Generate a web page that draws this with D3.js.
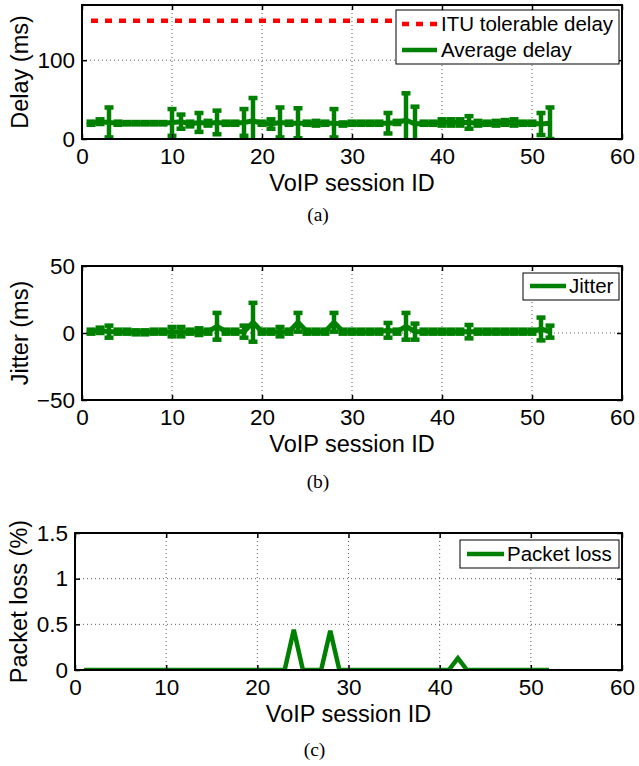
<!DOCTYPE html>
<html><head><meta charset="utf-8">
<script src="https://cdn.jsdelivr.net/npm/d3@7"></script>
<style>body{margin:0;background:#fff}</style>
</head><body>
<svg id="chart" width="639" height="766"></svg>
<script>
// ---------- DATA ----------
const sessionIds = d3.range(1, 53);
const delayMean = [20,22,21,20,20,20,20,20,20,21,22,19,21,20,21,20,20,21,23,20,19,21,20,20,20,20,20,20,19,20,20,20,20,20,21,24,19,20,20,21,21,21,21,20,20,20,21,21,20,20,19,20];
const delayErr  = [2,3,19,2,1.5,1.5,1.5,1.5,1.5,17,9,3,12,3,15,2,2,17,29,2,6,19,2,19,2,3,2,18,2,2,2,2,2,13,2,34,22,2,2,4,4,4,8,3,2,3,3,4,2,2,14,20];
const ituDelay = 150;
const jitterMean = [1,2,1,1,1,0.5,0.5,1,1,1,1,1,1,1,5,1,1,1,8,1,1,1,1,8,1,1,1,8,1,1,1,1,1,2,1,5,1,1,1,1,1,1,1,1,1,1,1,1,1,1,3,1];
const jitterErr  = [1.5,2,4.5,1.5,1.5,1.5,1.5,1.5,1.5,3.5,3.5,1.5,2.5,1.5,10,1.5,1.5,4.5,14.5,1.5,1.5,3.5,1.5,7,1.5,1.5,1.5,7,1.5,1.5,1.5,1.5,1.5,5.5,1.5,10,6,1.5,1.5,1.5,1.5,1.5,5,1.5,1.5,1.5,1.5,1.5,1.5,1.5,8.5,4.5];
const packetLoss = [0,0,0,0,0,0,0,0,0,0,0,0,0,0,0,0,0,0,0,0,0,0,0,0.44,0,0,0,0.43,0,0,0,0,0,0,0,0,0,0,0,0,0,0.13,0,0,0,0,0,0,0,0,0,0];
const xTicks = [0,10,20,30,40,50,60];
const delayTicks = [0,100];
const jitterTicks = [-50,0,50];
const lossTicks = [0,0.5,1,1.5];
const xLabel = "VoIP session ID";
const delayLegend = ["ITU tolerable delay", "Average delay"];
const jitterLegend = ["Jitter"];
const lossLegend = ["Packet loss"];
const captions = ["(a)", "(b)", "(c)"];

// ---------- DRAW ----------
const svg = d3.select("#chart");
const GREEN = "#008000", RED = "#ff0000";
const FONT = "'Liberation Sans', Arial, Helvetica, sans-serif";
const fmt = v => String(v).replace("-", "\u2212");

function panel(o, idx) {
  const x = d3.scaleLinear().domain([0, 60]).range([o.left, o.right]);
  const y = d3.scaleLinear().domain(o.yDomain).range([o.bottom, o.top]);
  const g = svg.append("g");
  const clipId = "clip" + idx;
  svg.append("clipPath").attr("id", clipId).append("rect")
    .attr("x", o.left).attr("y", o.top).attr("width", o.right - o.left).attr("height", o.bottom - o.top);

  const grid = g.append("g").attr("stroke", "#333").attr("stroke-width", 0.8).attr("stroke-dasharray", "1,3");
  xTicks.filter(t => t > 0 && t < 60).forEach(t => grid.append("line").attr("x1", x(t)).attr("x2", x(t)).attr("y1", o.top).attr("y2", o.bottom));
  o.yTicks.filter(t => t > o.yDomain[0] && t < o.yDomain[1]).forEach(t => grid.append("line").attr("x1", o.left).attr("x2", o.right).attr("y1", y(t)).attr("y2", y(t)));

  const data = g.append("g").attr("clip-path", `url(#${clipId})`);
  o.draw(data, x, y);

  const tl = 5;
  const axB = d3.axisBottom(x).tickValues(xTicks).tickSizeInner(-tl).tickSizeOuter(0).tickFormat(fmt).tickPadding(9);
  const axT = d3.axisTop(x).tickValues(xTicks).tickSizeInner(-tl).tickSizeOuter(0).tickFormat("");
  const axL = d3.axisLeft(y).tickValues(o.yTicks).tickSizeInner(-tl).tickSizeOuter(0).tickFormat(fmt).tickPadding(7);
  const axR = d3.axisRight(y).tickValues(o.yTicks).tickSizeInner(-tl).tickSizeOuter(0).tickFormat("");
  const styleAx = sel => {
    sel.select(".domain").remove();
    sel.selectAll("line").attr("stroke", "#000").attr("stroke-width", 1.5);
    sel.selectAll("text").attr("font-family", FONT).attr("font-size", 22.5).attr("fill", "#000");
  };
  g.append("g").attr("transform", `translate(0,${o.bottom})`).call(axB).call(styleAx);
  g.append("g").attr("transform", `translate(0,${o.top})`).call(axT).call(styleAx);
  g.append("g").attr("transform", `translate(${o.left},0)`).call(axL).call(styleAx);
  g.append("g").attr("transform", `translate(${o.right},0)`).call(axR).call(styleAx);
  g.append("rect").attr("x", o.left).attr("y", o.top).attr("width", o.right - o.left).attr("height", o.bottom - o.top)
    .attr("fill", "none").attr("stroke", "#000").attr("stroke-width", 2);

  g.append("text").attr("x", (o.left + o.right) / 2).attr("y", o.bottom + 52)
    .attr("text-anchor", "middle").attr("font-family", FONT).attr("font-size", 23.5).text(xLabel);
  g.append("text").attr("transform", `translate(${o.yLabelX},${(o.top + o.bottom) / 2}) rotate(-90)`)
    .attr("text-anchor", "middle").attr("font-family", FONT).attr("font-size", 23.5).text(o.yLabel);
  g.append("text").attr("x", (o.left + o.right) / 2 - 34).attr("y", o.captionY)
    .attr("text-anchor", "middle").attr("font-family", "'Liberation Serif','DejaVu Serif',serif").attr("font-size", 19.5).text(captions[idx]);

  const L = o.legend;
  const lg = g.append("g");
  lg.append("rect").attr("x", L.x0).attr("y", L.y0).attr("width", L.x1 - L.x0).attr("height", L.y1 - L.y0)
    .attr("fill", "#fff").attr("stroke", "#000").attr("stroke-width", 1);
  L.items.forEach((it, i) => {
    const yy = L.rowY[i];
    const ln = lg.append("line").attr("x1", L.lx0).attr("x2", L.lx1).attr("y1", yy).attr("y2", yy)
      .attr("stroke", it.color).attr("stroke-width", 4.5);
    if (it.dash) ln.attr("stroke-dasharray", it.dash);
    lg.append("text").attr("x", L.tx).attr("y", yy).attr("dy", "0.36em")
      .attr("font-family", FONT).attr("font-size", 20.5).text(it.label);
  });
}

function errorSeries(sel, x, y, means, errs) {
  const line = d3.line().x((d, i) => x(sessionIds[i])).y(d => y(d));
  sel.append("path").datum(means).attr("d", line).attr("fill", "none")
    .attr("stroke", GREEN).attr("stroke-width", 5).attr("stroke-linejoin", "miter");
  const cw = 4.5;
  const eb = sel.append("g").attr("stroke", GREEN).attr("stroke-width", 4.5);
  means.forEach((m, i) => {
    const cx = x(sessionIds[i]), lo = y(m - errs[i]), hi = y(m + errs[i]);
    eb.append("line").attr("x1", cx).attr("x2", cx).attr("y1", lo).attr("y2", hi);
    eb.append("line").attr("x1", cx - cw).attr("x2", cx + cw).attr("y1", lo).attr("y2", lo);
    eb.append("line").attr("x1", cx - cw).attr("x2", cx + cw).attr("y1", hi).attr("y2", hi);
  });
}

panel({
  left: 82, right: 622, top: 5, bottom: 139, yDomain: [0, 170], yTicks: delayTicks,
  yLabel: "Delay (ms)", yLabelX: 28, captionY: 221,
  legend: { x0: 396, x1: 619, y0: 10, y1: 64, lx0: 402, lx1: 437, tx: 441, rowY: [24, 50],
    items: [{ label: delayLegend[0], color: RED, dash: "7,7" }, { label: delayLegend[1], color: GREEN }] },
  draw: (s, x, y) => {
    s.append("line").attr("x1", x(sessionIds[0])).attr("x2", x(sessionIds[sessionIds.length - 1]))
      .attr("y1", y(ituDelay)).attr("y2", y(ituDelay)).attr("stroke", RED).attr("stroke-width", 4.5).attr("stroke-dasharray", "7,7");
    errorSeries(s, x, y, delayMean, delayErr);
  }
}, 0);

panel({
  left: 82, right: 622, top: 266, bottom: 400, yDomain: [-50, 50], yTicks: jitterTicks,
  yLabel: "Jitter (ms)", yLabelX: 28, captionY: 488,
  legend: { x0: 523, x1: 619, y0: 273, y1: 300, lx0: 530, lx1: 566, tx: 569, rowY: [286],
    items: [{ label: jitterLegend[0], color: GREEN }] },
  draw: (s, x, y) => errorSeries(s, x, y, jitterMean, jitterErr)
}, 1);

panel({
  left: 75, right: 622, top: 533, bottom: 670, yDomain: [0, 1.5], yTicks: lossTicks,
  yLabel: "Packet loss (%)", yLabelX: 27, captionY: 756,
  legend: { x0: 460, x1: 619, y0: 540, y1: 568, lx0: 467, lx1: 504, tx: 507, rowY: [554],
    items: [{ label: lossLegend[0], color: GREEN }] },
  draw: (s, x, y) => {
    const line = d3.line().x((d, i) => x(sessionIds[i])).y(d => y(d));
    s.append("path").datum(packetLoss).attr("d", line).attr("fill", "none")
      .attr("stroke", GREEN).attr("stroke-width", 4.5).attr("stroke-linejoin", "miter");
  }
}, 2);
</script>
</body></html>
